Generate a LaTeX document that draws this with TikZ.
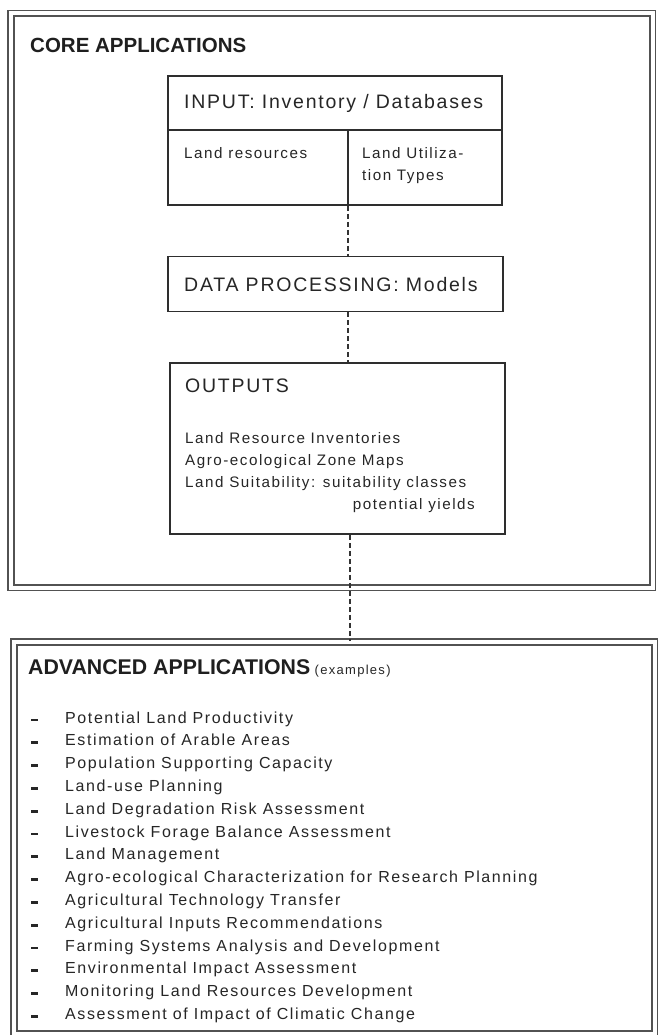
\documentclass[tikz,border=0pt]{standalone}
\usepackage{fontspec}
\setmainfont{Liberation Sans}
\newfontfamily\spacedbig[LetterSpace=9]{Liberation Sans}
\newfontfamily\spacedsmall[LetterSpace=10]{Liberation Sans}
\begin{document}
\begin{tikzpicture}[x=1pt,y=-1pt,
  frame/.style={draw=black!68,double=white,double distance=4pt,line width=1.8pt,inner sep=0pt},
  box/.style={draw=black!82,line width=1.5pt,inner sep=0pt},
  conn/.style={draw=black!80,line width=1.1pt,dash pattern=on 5pt off 3pt},
  head/.style={font=\fontsize{20.5}{24}\selectfont\bfseries,text=black!88,inner sep=0pt,anchor=base west},
  big/.style={font=\fontsize{19.5}{22}\selectfont\spacedbig,text=black!85,inner sep=0pt,anchor=base west},
  small/.style={font=\fontsize{15.2}{18}\selectfont\spacedsmall,text=black!85,inner sep=0pt,anchor=base west},
  item/.style={font=\fontsize{16}{18}\selectfont\spacedsmall,text=black!85,inner sep=0pt,anchor=base west},
  tiny/.style={font=\fontsize{13}{15}\selectfont\spacedsmall,text=black!85,inner sep=0pt,anchor=base west},
  dashbar/.style={fill=black!85,minimum width=7pt,minimum height=2.8pt,inner sep=0pt}]
\useasboundingbox (0,0) rectangle (657,1035);
\fill[white] (0,0) rectangle (657,1035);
% frames
\node[frame,minimum width=641.5pt,minimum height=574pt] (core) at (331.75,300.5) {};
\node[frame,minimum width=640.5pt,minimum height=391.5pt] (adv) at (334.25,837.75) {};
% core title
\node[head] (coret) at (30,52.5) {CORE APPLICATIONS};
% input box
\node[box,minimum width=334pt,minimum height=129pt] (input) at (335,140.5) {};
\coordinate (div) at (348,130);
\draw[box] (input.west |- div) -- (input.east |- div);
\draw[box] (div) -- (div |- input.south);
\node[big] (inputt) at (184,109) {INPUT: Inventory / Databases};
\node[small] (lr) at (184,159) {Land resources};
\node[small] (lut1) at (362,159) {Land Utiliza-};
\node[small] (lut2) at (362,181) {tion Types};
% data processing
\node[box,minimum width=335pt,minimum height=55pt] (data) at (335.5,284) {};
\node[big] (datat) at (184,291) {DATA PROCESSING: Models};
% outputs
\node[box,minimum width=335pt,minimum height=171pt] (outputs) at (337.5,448.5) {};
\node[big] (outt) at (185,392) {OUTPUTS};
\node[small] (o1) at (185,443) {Land Resource Inventories};
\node[small] (o2) at (185,465) {Agro-ecological Zone Maps};
\node[small] (o3) at (185,487) {Land Suitability: suitability classes};
\node[small,anchor=base east] (o4) at (475,509) {potential yields};
% connectors
\draw[conn] (div |- input.south) -- (div |- data.north);
\draw[conn] (div |- data.south) -- (div |- outputs.north);
\coordinate (c3) at (350,0);
\draw[conn] (c3 |- outputs.south) -- (c3 |- adv.north);
% advanced
\node[head,font=\fontsize{21.3}{24}\selectfont\bfseries] (advt) at (28,674.5) {ADVANCED APPLICATIONS};
\node[tiny] (advx) at (advt.base east) {\hspace{4pt}(examples)};
\foreach \t [count=\i] in {Potential Land Productivity,Estimation of Arable Areas,Population Supporting Capacity,Land-use Planning,Land Degradation Risk Assessment,Livestock Forage Balance Assessment,Land Management,Agro-ecological Characterization for Research Planning,Agricultural Technology Transfer,Agricultural Inputs Recommendations,Farming Systems Analysis and Development,Environmental Impact Assessment,Monitoring Land Resources Development,Assessment of Impact of Climatic Change}{
  \pgfmathsetmacro{\yb}{723+(\i-1)*22.8}
  \node[item] (item\i) at (65,\yb) {\t};
  \node[dashbar] (bar\i) at (34,\yb-3) {};
}
\end{tikzpicture}
\end{document}
